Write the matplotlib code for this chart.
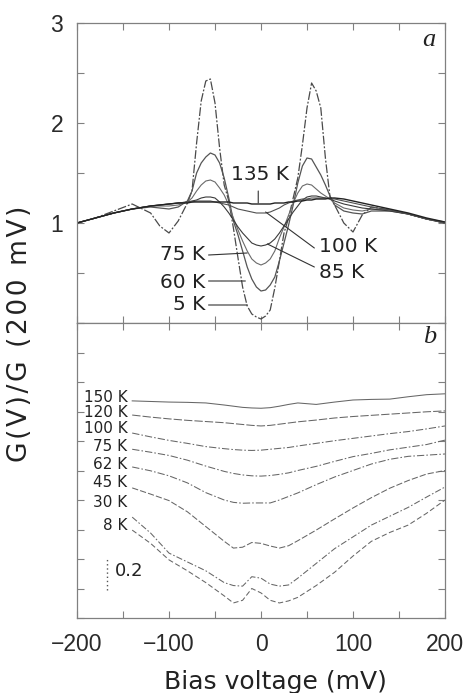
import matplotlib
matplotlib.use('Agg')
import matplotlib.pyplot as plt
from matplotlib.ticker import FixedLocator, MultipleLocator

# ---------------- data: panel a ----------------
bias_a = [-200, -180, -160, -140, -120, -110, -100, -90, -80, -75, -70, -65, -60, -55, -50,
          -45, -40, -35, -30, -25, -20, -15, -10, -5, 0, 5, 10, 15, 20, 25, 30, 35, 40, 45,
          50, 55, 60, 65, 70, 75, 80, 90, 100, 110, 120, 140, 160, 180, 200]

g_5K = [1.00, 1.05, 1.12, 1.19, 1.10, 0.97, 0.90, 1.02, 1.20, 1.32, 1.80, 2.22, 2.42, 2.44,
        2.20, 1.75, 1.38, 1.22, 0.95, 0.65, 0.36, 0.17, 0.09, 0.06, 0.04, 0.07, 0.13, 0.35,
        0.62, 0.90, 1.05, 1.25, 1.45, 1.78, 2.15, 2.40, 2.32, 2.15, 1.65, 1.26, 1.18, 1.00,
        0.91, 1.08, 1.16, 1.13, 1.09, 1.04, 1.00]
g_60K = [1.00, 1.05, 1.10, 1.14, 1.16, 1.15, 1.14, 1.16, 1.22, 1.32, 1.50, 1.60, 1.66, 1.70,
         1.68, 1.60, 1.45, 1.25, 1.02, 0.88, 0.72, 0.56, 0.44, 0.36, 0.32, 0.33, 0.38, 0.46,
         0.62, 0.80, 0.98, 1.18, 1.40, 1.57, 1.65, 1.64, 1.56, 1.48, 1.38, 1.27, 1.18, 1.12,
         1.10, 1.09, 1.12, 1.12, 1.09, 1.04, 1.01]
g_75K = [1.00, 1.05, 1.10, 1.14, 1.17, 1.17, 1.17, 1.18, 1.21, 1.25, 1.32, 1.38, 1.42, 1.43,
         1.41, 1.35, 1.28, 1.18, 1.05, 0.93, 0.82, 0.72, 0.64, 0.60, 0.58, 0.60, 0.64, 0.72,
         0.85, 0.96, 1.08, 1.20, 1.30, 1.37, 1.39, 1.38, 1.34, 1.30, 1.27, 1.24, 1.20, 1.15,
         1.13, 1.12, 1.14, 1.13, 1.09, 1.04, 1.00]
g_85K = [1.00, 1.05, 1.10, 1.14, 1.17, 1.18, 1.19, 1.20, 1.21, 1.22, 1.23, 1.25, 1.26, 1.26,
         1.25, 1.21, 1.16, 1.10, 1.03, 0.96, 0.90, 0.85, 0.80, 0.78, 0.77, 0.78, 0.80, 0.84,
         0.90, 0.97, 1.04, 1.11, 1.17, 1.23, 1.26, 1.27, 1.27, 1.26, 1.25, 1.24, 1.22, 1.19,
         1.17, 1.15, 1.14, 1.12, 1.09, 1.04, 1.00]
g_100K = [1.00, 1.05, 1.10, 1.14, 1.17, 1.18, 1.19, 1.20, 1.21, 1.21, 1.22, 1.22, 1.22, 1.22,
          1.21, 1.20, 1.19, 1.18, 1.16, 1.14, 1.13, 1.12, 1.11, 1.10, 1.10, 1.10, 1.11, 1.13,
          1.15, 1.18, 1.20, 1.22, 1.23, 1.24, 1.24, 1.25, 1.25, 1.25, 1.25, 1.24, 1.24, 1.22,
          1.20, 1.18, 1.16, 1.13, 1.09, 1.04, 1.00]
g_135K = [1.00, 1.05, 1.10, 1.14, 1.17, 1.18, 1.19, 1.20, 1.20, 1.21, 1.21, 1.21, 1.21, 1.21,
          1.21, 1.21, 1.21, 1.21, 1.20, 1.20, 1.20, 1.20, 1.19, 1.19, 1.19, 1.19, 1.19, 1.20,
          1.20, 1.20, 1.21, 1.21, 1.22, 1.22, 1.23, 1.23, 1.24, 1.24, 1.24, 1.25, 1.25, 1.24,
          1.22, 1.20, 1.18, 1.14, 1.10, 1.05, 1.01]

labels_a = ["5 K", "60 K", "75 K", "85 K", "100 K", "135 K"]

# ---------------- data: panel b (offset curves) ----------------
bias_b = [-140, -120, -100, -80, -60, -40, -30, -20, -10, 0, 10, 20, 30, 40, 60, 80, 100,
          120, 140, 160, 180, 200]

b_150K = [.736, .734, .732, .731, .729, .722, .718, .714, .712, .711, .713, .718, .724, .729,
          .724, .732, .739, .741, .742, .750, .757, .760]
b_120K = [.688, .681, .675, .670, .666, .662, .659, .656, .653, .651, .653, .657, .661, .665,
          .671, .678, .683, .687, .691, .695, .699, .702]
b_100K = [.627, .614, .602, .592, .581, .574, .571, .569, .568, .569, .572, .575, .578, .583,
          .592, .601, .609, .617, .625, .632, .641, .651]
b_75K = [.572, .562, .551, .535, .515, .497, .490, .485, .482, .481, .483, .487, .492, .500,
         .514, .531, .547, .558, .570, .579, .588, .603]
b_62K = [.512, .499, .482, .458, .425, .400, .392, .389, .390, .390, .390, .400, .412, .424,
         .452, .478, .500, .522, .538, .548, .552, .556]
b_45K = [.441, .420, .398, .360, .310, .260, .237, .240, .256, .253, .244, .237, .245, .262,
         .298, .336, .373, .408, .440, .466, .488, .500]
b_30K = [.342, .288, .220, .190, .160, .120, .110, .108, .140, .135, .115, .108, .112, .135,
         .185, .235, .275, .315, .345, .375, .410, .444]
b_8K = [.298, .253, .197, .160, .120, .075, .051, .060, .100, .085, .060, .051, .058, .070,
        .110, .155, .210, .260, .290, .315, .355, .400]

labels_b = ["150 K", "120 K", "100 K", "75 K", "62 K", "45 K", "30 K", "8 K"]

xticks_major = [-200, -100, 0, 100, 200]

# ---------------- figure ----------------
W, H = 469, 693
fig = plt.figure(figsize=(W / 100, H / 100), dpi=100)
left = 77 / W
width = 368 / W
axa = fig.add_axes([left, 1 - 323 / H, width, 300 / H])
axb = fig.add_axes([left, 1 - 618 / H, width, 295 / H])

tickfont = dict(family=['Liberation Sans', 'DejaVu Sans'], size=16.5)
spine_c = '#808080'

for ax in (axa, axb):
    ax.set_xlim(-200, 200)
    for s in ax.spines.values():
        s.set_color(spine_c)
        s.set_linewidth(0.9)
    ax.xaxis.set_major_locator(FixedLocator(xticks_major))
    ax.xaxis.set_minor_locator(MultipleLocator(50))
    ax.tick_params(which='both', direction='in', top=True, right=True, length=5,
                   width=0.8, color=spine_c, labelcolor='#2a2a2a')

# panel a
axa.set_ylim(0, 3)
axa.yaxis.set_major_locator(FixedLocator([1, 2, 3]))
axa.yaxis.set_minor_locator(FixedLocator([0, 0.5, 1.5, 2.5]))
axa.tick_params(axis='x', labelbottom=False)
axa.tick_params(axis='y', pad=10)
for lab in axa.get_yticklabels():
    lab.set_fontproperties(matplotlib.font_manager.FontProperties(**tickfont))

styles_a = {
    "5 K": dict(color='#4a4a4a', lw=0.9, ls=(0, (7, 1.5, 1.5, 1.5))),
    "60 K": dict(color='#555555', lw=0.9, ls='-'),
    "75 K": dict(color='#6a6a6a', lw=0.8, ls='-'),
    "85 K": dict(color='#3a3a3a', lw=0.8, ls='-'),
    "100 K": dict(color='#505050', lw=0.8, ls='-'),
    "135 K": dict(color='#222222', lw=1.0, ls='-'),
}
series_a = [g_5K, g_60K, g_75K, g_85K, g_100K, g_135K]
for lab, ys in zip(labels_a, series_a):
    axa.plot(bias_a, ys, **styles_a[lab])

annfont = dict(family='DejaVu Sans', size=14.5, color='#222222')
arrow = dict(arrowstyle='-', color='#333333', lw=0.8, shrinkA=0, shrinkB=0)
# label, text position (x, y), text alignment, pointer start, pointer end
ann_a = [
    ("135 K", (-33, 1.48), 'left', (-3, 1.32), (-3, 1.20)),
    ("100 K", (63, 0.77), 'left', (58, 0.75), (5, 1.11)),
    ("85 K", (63, 0.51), 'left', (58, 0.56), (7, 0.79)),
    ("75 K", (-61, 0.68), 'right', (-57, 0.68), (-15, 0.70)),
    ("60 K", (-61, 0.41), 'right', (-57, 0.42), (-17, 0.42)),
    ("5 K", (-61, 0.18), 'right', (-57, 0.18), (-15, 0.18)),
]
for lab, (tx, ty), ha, p0, p1 in ann_a:
    axa.text(tx, ty, lab, ha=ha, va='center', **annfont)
    axa.annotate('', xy=p1, xytext=p0, arrowprops=arrow)

axa.text(0.957, 0.945, 'a', transform=axa.transAxes, ha='center', va='center',
         family='Liberation Serif', style='italic', size=19, color='#222222')

# panel b
axb.set_ylim(0, 1)
axb.yaxis.set_major_locator(MultipleLocator(0.1))
axb.tick_params(axis='y', labelleft=False)
axb.tick_params(axis='x', pad=11)
for lab in axb.get_xticklabels():
    lab.set_fontproperties(matplotlib.font_manager.FontProperties(**tickfont))

series_b = [b_150K, b_120K, b_100K, b_75K, b_62K, b_45K, b_30K, b_8K]
styles_b = ['-', (0, (8, 2)), (0, (7, 2, 1.5, 2)), (0, (7, 2, 1.5, 2)), (0, (7, 2, 1.5, 2)),
            (0, (6, 2)), (0, (6, 2, 1.5, 2)), (0, (5, 2.5))]
label_y_b = [0.749, 0.698, 0.641, 0.580, 0.519, 0.458, 0.390, 0.312]
for lab, ys, ls, ly in zip(labels_b, series_b, styles_b, label_y_b):
    axb.plot(bias_b, ys, color='#666666', lw=0.75, ls=ls)
    axb.text(-145, ly, lab, ha='right', va='center', family='DejaVu Sans', size=11,
             color='#222222')

# scale bar
axb.plot([-167, -167], [0.095, 0.203], color='#555555', lw=1.0, ls=(0, (1, 2)))
axb.text(-159, 0.16, '0.2', ha='left', va='center', family='DejaVu Sans', size=13,
         color='#222222')

axb.text(0.959, 0.953, 'b', transform=axb.transAxes, ha='center', va='center',
         family='Liberation Serif', style='italic', size=19, color='#222222')

fig.text(275 / W, 1 - 689 / H, 'Bias voltage (mV)', ha='center', va='baseline',
         family='DejaVu Sans', size=18, color='#222222')

ylabel_text = '\u200a'.join('G(V)/G (200 mV)')
fig.text(20 / W, 1 - 334 / H, ylabel_text, rotation=90, ha='center', va='center',
         family='DejaVu Sans', size=19, color='#222222')

fig.savefig('out.png', dpi=100)
